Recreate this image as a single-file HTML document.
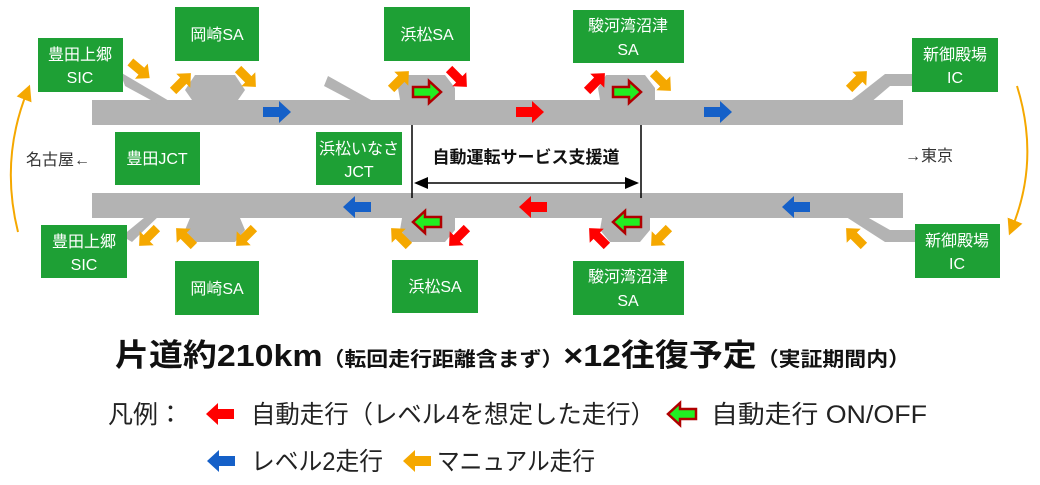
<!DOCTYPE html>
<html><head><meta charset="utf-8"><style>
html,body{margin:0;padding:0;background:#fff;}
svg{display:block}
text{font-family:"Liberation Sans","Noto Sans CJK JP",sans-serif;}
</style></head><body>
<svg width="1040" height="485" viewBox="0 0 1040 485" xmlns="http://www.w3.org/2000/svg">
<defs>
<path id="ar" d="M-14,-5 H2 V-11 L14,0 L2,11 V5 H-14 Z"/>
<marker id="mh" markerWidth="8" markerHeight="8" refX="4" refY="4" orient="auto"><path d="M0,0 L8,4 L0,8 Z" fill="#f5a800"/></marker>
</defs>
<g fill="#b3b3b3" stroke="none">
<rect x="92" y="100" width="811" height="25"/>
<rect x="92" y="193" width="811" height="25"/>
<polygon points="120,72 125,86 160,105 176,105"/>
<polygon points="192,100 185,90 195,75 235,75 245,90 238,100"/>
<polygon points="328,76 324,86 360,105 380,105"/>
<polygon points="400,100 398,88 407,75 445,75 455,88 455,100"/>
<polygon points="600,100 598,88 606,75 645,75 655,88 655,100"/>
<polygon points="848,103 885,74 912,74 912,86 890,86 870,103"/>
<polygon points="150,213 162,213 132,242 122,236"/>
<polygon points="190,218 185,230 195,242 235,242 245,230 240,218"/>
<polygon points="402,218 400,230 410,242 445,242 455,230 455,218"/>
<polygon points="602,218 600,230 610,242 640,242 650,230 650,218"/>
<polygon points="840,213 885,242 916,242 916,230 890,230 860,213"/>
</g>
<g fill="#1ea035">
<rect x="38" y="38" width="85" height="54"/>
<rect x="175" y="7" width="84" height="54"/>
<rect x="384" y="7" width="86" height="54"/>
<rect x="573" y="10" width="111" height="53"/>
<rect x="912" y="38" width="86" height="54"/>
<rect x="115" y="132" width="85" height="53"/>
<rect x="316" y="132" width="86" height="53"/>
<rect x="41" y="225" width="86" height="53"/>
<rect x="175" y="261" width="84" height="54"/>
<rect x="392" y="260" width="86" height="53"/>
<rect x="573" y="261" width="111" height="54"/>
<rect x="915" y="224" width="85" height="54"/>
</g>
<g fill="#fff" font-size="16" text-anchor="middle">
<text x="80" y="60">豊田上郷</text><text x="80" y="83">SIC</text>
<text x="217" y="40">岡崎SA</text>
<text x="427" y="40">浜松SA</text>
<text x="628" y="31">駿河湾沼津</text><text x="628" y="55">SA</text>
<text x="955" y="60">新御殿場</text><text x="955" y="83">IC</text>
<text x="157" y="164">豊田JCT</text>
<text x="359" y="154">浜松いなさ</text><text x="359" y="177">JCT</text>
<text x="84" y="247">豊田上郷</text><text x="84" y="270">SIC</text>
<text x="217" y="294">岡崎SA</text>
<text x="435" y="292">浜松SA</text>
<text x="628" y="282">駿河湾沼津</text><text x="628" y="306">SA</text>
<text x="957" y="246">新御殿場</text><text x="957" y="269">IC</text>
</g>
<g fill="#333" font-size="16">
<text x="26" y="165">名古屋←</text>
<text x="905" y="161">→東京</text>
</g>
<line x1="412" y1="125" x2="412" y2="198" stroke="#000" stroke-width="1.5"/>
<line x1="641" y1="125" x2="641" y2="198" stroke="#000" stroke-width="1.5"/>
<line x1="425" y1="183" x2="628" y2="183" stroke="#000" stroke-width="1.5"/>
<path d="M414,183 L428,177 L428,189 Z M639,183 L625,177 L625,189 Z" fill="#000"/>
<text x="526" y="163" font-size="17" font-weight="bold" text-anchor="middle" fill="#111">自動運転サービス支援道</text>
<path d="M18,232 Q0,160 27,92" fill="none" stroke="#f5a800" stroke-width="2" marker-end="url(#mh)"/>
<path d="M1017,86 Q1040,160 1012,228" fill="none" stroke="#f5a800" stroke-width="2" marker-end="url(#mh)"/>
<g fill="#f5a800">
<use href="#ar" transform="translate(140,70) rotate(40) scale(0.9)"/>
<use href="#ar" transform="translate(182,82) rotate(-45) scale(0.9)"/>
<use href="#ar" transform="translate(247,78) rotate(45) scale(0.9)"/>
<use href="#ar" transform="translate(400,80) rotate(-45) scale(0.9)"/>
<use href="#ar" transform="translate(662,82) rotate(45) scale(0.9)"/>
<use href="#ar" transform="translate(858,80) rotate(-45) scale(0.9)"/>
<use href="#ar" transform="translate(148,237) rotate(135) scale(0.9)"/>
<use href="#ar" transform="translate(185,237) rotate(-135) scale(0.9)"/>
<use href="#ar" transform="translate(245,237) rotate(135) scale(0.9)"/>
<use href="#ar" transform="translate(400,237) rotate(-135) scale(0.9)"/>
<use href="#ar" transform="translate(660,237) rotate(135) scale(0.9)"/>
<use href="#ar" transform="translate(855,237) rotate(-135) scale(0.9)"/>
</g>
<g fill="#1560c8">
<use href="#ar" transform="translate(277,112)"/>
<use href="#ar" transform="translate(718,112)"/>
<use href="#ar" transform="translate(357,207) rotate(180)"/>
<use href="#ar" transform="translate(796,207) rotate(180)"/>
</g>
<g fill="#f00">
<use href="#ar" transform="translate(458,78) rotate(45) scale(0.9)"/>
<use href="#ar" transform="translate(530,112)"/>
<use href="#ar" transform="translate(596,82) rotate(-45) scale(0.9)"/>
<use href="#ar" transform="translate(458,237) rotate(135) scale(0.9)"/>
<use href="#ar" transform="translate(533,207) rotate(180)"/>
<use href="#ar" transform="translate(598,237) rotate(-135) scale(0.9)"/>
</g>
<g fill="#22ee22" stroke="#b00000" stroke-width="2.5">
<use href="#ar" transform="translate(427,92)"/>
<use href="#ar" transform="translate(627,92)"/>
<use href="#ar" transform="translate(427,222) rotate(180)"/>
<use href="#ar" transform="translate(627,222) rotate(180)"/>
</g>
<text x="115" y="366" fill="#111" font-weight="bold" font-size="31" textLength="795" lengthAdjust="spacingAndGlyphs">片道約210km<tspan font-size="20">（転回走行距離含まず）</tspan>×12往復予定<tspan font-size="20">（実証期間内）</tspan></text>
<g fill="#222" font-size="25">
<text x="108" y="423">凡例：</text>
<use href="#ar" transform="translate(220,414) rotate(180)" fill="#f00"/>
<text x="251" y="423" textLength="404" lengthAdjust="spacingAndGlyphs">自動走行（レベル4を想定した走行）</text>
<use href="#ar" transform="translate(682,414) rotate(180)" fill="#22ee22" stroke="#b00000" stroke-width="2.5"/>
<text x="711" y="423" textLength="216" lengthAdjust="spacingAndGlyphs">自動走行 ON/OFF</text>
<use href="#ar" transform="translate(221,461) rotate(180)" fill="#1560c8"/>
<text x="251" y="470" textLength="132" lengthAdjust="spacingAndGlyphs">レベル2走行</text>
<use href="#ar" transform="translate(417,461) rotate(180)" fill="#f5a800"/>
<text x="437" y="470" textLength="158" lengthAdjust="spacingAndGlyphs">マニュアル走行</text>
</g>
</svg>
</body></html>
